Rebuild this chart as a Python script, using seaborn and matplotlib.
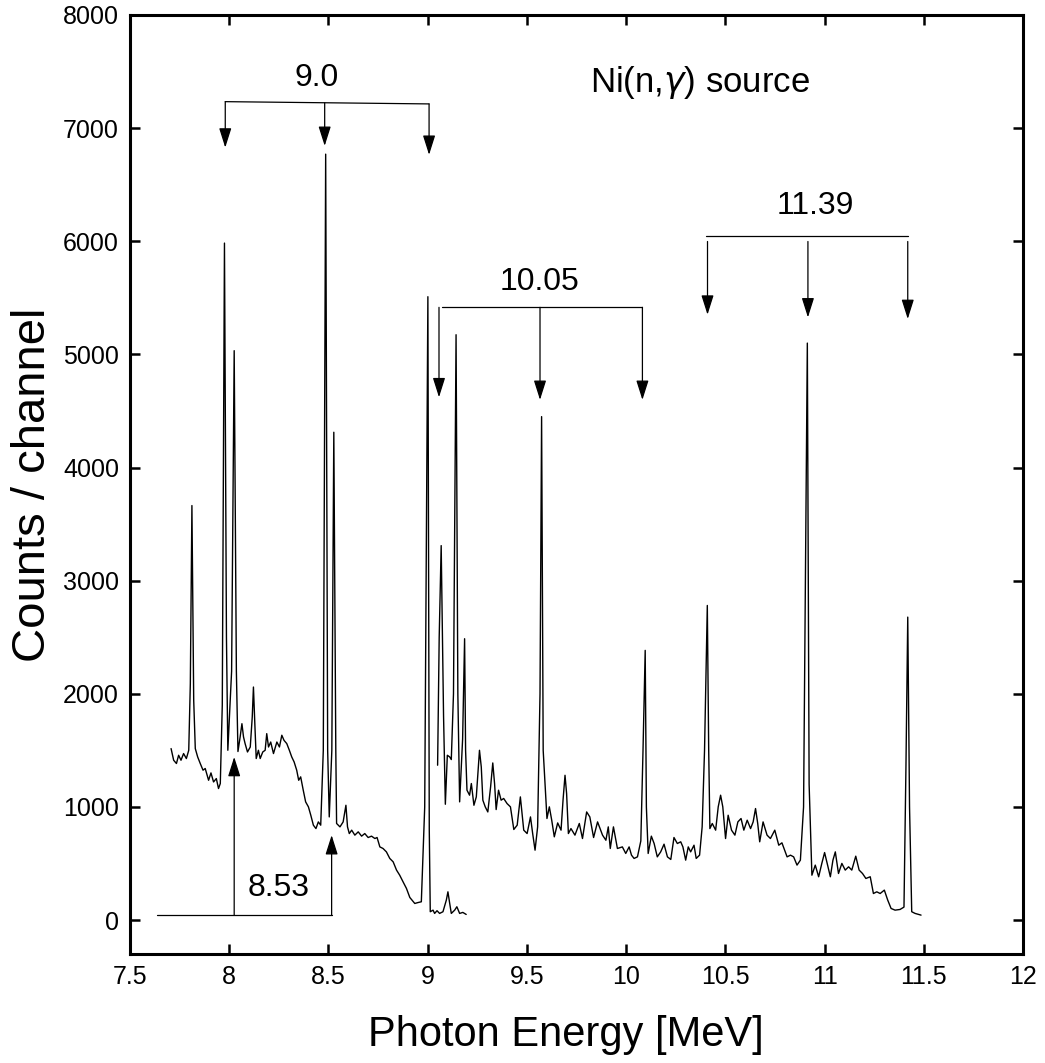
import numpy as np
import pandas as pd
import matplotlib
matplotlib.use("Agg")
import matplotlib.pyplot as plt
import seaborn as sns

# spectrum, part 1 (7.7 - 9.2 MeV)
energy_a = [7.707, 7.720, 7.734, 7.745, 7.757, 7.770, 7.784, 7.796, 7.804, 7.812,
            7.821, 7.829, 7.841, 7.854, 7.868, 7.879, 7.896, 7.908, 7.921, 7.935,
            7.946, 7.955, 7.965, 7.976, 7.986, 7.993, 8.012, 8.025, 8.036, 8.044,
            8.055, 8.064, 8.072, 8.080, 8.092, 8.106, 8.116, 8.122, 8.129, 8.136,
            8.147, 8.156, 8.169, 8.181, 8.189, 8.198, 8.209, 8.223, 8.240, 8.253,
            8.265, 8.276, 8.290, 8.303, 8.315, 8.327, 8.340, 8.350, 8.360, 8.373,
            8.385, 8.399, 8.411, 8.424, 8.437, 8.449, 8.461, 8.474, 8.486, 8.496,
            8.504, 8.517, 8.527, 8.537, 8.541, 8.558, 8.574, 8.588, 8.596, 8.605,
            8.617, 8.633, 8.650, 8.667, 8.683, 8.700, 8.717, 8.734, 8.745, 8.759,
            8.775, 8.792, 8.809, 8.826, 8.843, 8.859, 8.876, 8.893, 8.910, 8.935,
            8.951, 8.968, 8.985, 9.001, 9.008, 9.013, 9.027, 9.035, 9.047, 9.060,
            9.077, 9.094, 9.102, 9.111, 9.119, 9.136, 9.147, 9.161, 9.177, 9.194]
counts_a = [1516, 1413, 1384, 1457, 1413, 1472, 1428, 1501, 2090, 3664,
            1943, 1516, 1442, 1384, 1325, 1340, 1236, 1301, 1221, 1251,
            1163, 1207, 1900, 5984, 2500, 1501, 2200, 5033, 2200, 1490,
            1619, 1736, 1619, 1560, 1486, 1530, 1795, 2060, 1736, 1428,
            1501, 1428, 1486, 1501, 1648, 1530, 1574, 1472, 1574, 1530,
            1634, 1589, 1560, 1501, 1442, 1398, 1325, 1236, 1266, 1148,
            1045, 1001, 927, 839, 809, 868, 839, 1500, 6770, 1500,
            912, 1500, 4312, 1500, 854, 824, 868, 1015, 824, 765,
            795, 751, 780, 742, 765, 730, 742, 721, 730, 647,
            633, 603, 545, 515, 442, 397, 338, 280, 200, 147,
            155, 162, 1000, 5510, 800, 74, 88, 59, 83, 59,
            74, 177, 250, 147, 59, 88, 118, 59, 68, 50]

# spectrum, part 2 (9.05 - 11.5 MeV)
energy_b = [9.050, 9.058, 9.068, 9.080, 9.089, 9.099, 9.111, 9.119, 9.130, 9.143,
            9.152, 9.161, 9.176, 9.186, 9.191, 9.198, 9.211, 9.220, 9.233, 9.245,
            9.253, 9.261, 9.270, 9.278, 9.290, 9.303, 9.317, 9.328, 9.337, 9.345,
            9.357, 9.370, 9.383, 9.400, 9.417, 9.434, 9.451, 9.467, 9.484, 9.501,
            9.518, 9.529, 9.541, 9.554, 9.566, 9.574, 9.582, 9.601, 9.613, 9.625,
            9.638, 9.655, 9.672, 9.682, 9.692, 9.700, 9.709, 9.722, 9.742, 9.764,
            9.780, 9.801, 9.817, 9.836, 9.856, 9.881, 9.898, 9.910, 9.920, 9.936,
            9.956, 9.981, 9.998, 10.015, 10.027, 10.040, 10.057, 10.074, 10.085, 10.096,
            10.102, 10.111, 10.127, 10.141, 10.157, 10.174, 10.191, 10.208, 10.225, 10.241,
            10.258, 10.275, 10.286, 10.300, 10.313, 10.325, 10.342, 10.353, 10.370, 10.383,
            10.395, 10.409, 10.416, 10.422, 10.434, 10.451, 10.464, 10.476, 10.487, 10.501,
            10.514, 10.531, 10.548, 10.563, 10.579, 10.593, 10.610, 10.627, 10.640, 10.652,
            10.663, 10.673, 10.690, 10.710, 10.727, 10.749, 10.769, 10.785, 10.811, 10.828,
            10.844, 10.861, 10.878, 10.894, 10.913, 10.922, 10.936, 10.953, 10.970, 10.986,
            11.000, 11.017, 11.029, 11.042, 11.054, 11.070, 11.087, 11.104, 11.121, 11.137,
            11.157, 11.174, 11.191, 11.208, 11.230, 11.246, 11.263, 11.280, 11.301, 11.318,
            11.335, 11.355, 11.380, 11.400, 11.405, 11.410, 11.419, 11.428, 11.439, 11.456,
            11.486]
counts_b = [1369, 2500, 3310, 1800, 1024, 1457, 1442, 1419, 2000, 5174,
            2000, 1045, 1600, 2487, 1500, 1148, 1104, 1207, 1015, 1089,
            1295, 1501, 1354, 1060, 1001, 956, 1177, 1389, 1207, 977,
            1148, 1060, 1075, 1030, 1001, 801, 839, 1089, 795, 765,
            912, 765, 618, 824, 2000, 4450, 1500, 898, 1001, 883,
            736, 859, 795, 1060, 1280, 1119, 765, 809, 751, 854,
            721, 956, 912, 730, 868, 751, 706, 824, 633, 824,
            633, 647, 589, 647, 574, 545, 559, 700, 1500, 2384,
            1000, 589, 742, 677, 559, 603, 671, 559, 536, 730,
            677, 692, 647, 530, 647, 603, 662, 545, 574, 824,
            1500, 2781, 1500, 809, 854, 795, 1001, 1104, 1001, 721,
            927, 795, 751, 868, 898, 795, 883, 809, 868, 986,
            854, 692, 868, 751, 721, 795, 662, 683, 559, 574,
            559, 486, 530, 1000, 5100, 1200, 397, 486, 383, 501,
            597, 471, 383, 530, 603, 412, 501, 442, 471, 442,
            565, 442, 412, 368, 383, 235, 250, 235, 265, 177,
            103, 88, 94, 115, 768, 1366, 2678, 1000, 74, 59,
            44]

# decay-line markers: group label, label position, arrow x, line y, arrow tips
group_labels = ["9.0", "10.05", "11.39"]
group_label_pos = [(8.441, 7447), (9.565, 5636), (10.955, 6314)]
group_arrow_x = [[7.980, 8.481, 9.007], [9.057, 9.566, 10.082], [10.410, 10.916, 11.419]]
group_line = [(7.980, 9.007, 7234, 7214), (9.074, 10.082, 5416, 5416), (10.404, 11.419, 6043, 6043)]
group_arrow_top = [[7234, 7223, 7214], [5416, 5416, 5416], [5998, 5998, 5998]]
group_arrow_tip = [[6828, 6843, 6764], [4621, 4598, 4598], [5351, 5327, 5313]]

# 8.53 group (arrows pointing up)
low_label = "8.53"
low_label_pos = (8.248, 280)
low_line = (7.637, 8.516, 44)
low_arrow_x = [8.025, 8.516]
low_arrow_tip = [1442, 751]

x_ticks = [7.5, 8, 8.5, 9, 9.5, 10, 10.5, 11, 11.5, 12]
x_tick_labels = ["7.5", "8", "8.5", "9", "9.5", "10", "10.5", "11", "11.5", "12"]
y_ticks = [0, 1000, 2000, 3000, 4000, 5000, 6000, 7000, 8000]

sns.set_theme(style="white")
plt.rcParams['font.family'] = ['Liberation Sans', 'DejaVu Sans']
plt.rcParams['mathtext.fontset'] = 'dejavusans'
plt.rcParams['text.color'] = 'black'
plt.rcParams['axes.labelcolor'] = 'black'

fig = plt.figure(figsize=(10.45, 10.63), dpi=100)
ax = fig.add_axes([0.1244, 0.1025, 0.9790 - 0.1244, 0.9859 - 0.1025])

df_a = pd.DataFrame({"E": energy_a, "C": counts_a})
df_b = pd.DataFrame({"E": energy_b, "C": counts_b})
sns.lineplot(data=df_a, x="E", y="C", ax=ax, color="black", lw=1.0,
             estimator=None, sort=False)
sns.lineplot(data=df_b, x="E", y="C", ax=ax, color="black", lw=1.0,
             estimator=None, sort=False)

arrow_kw = dict(arrowstyle="-|>,head_length=1.2,head_width=0.38", color="black",
                lw=0.9, shrinkA=0, shrinkB=0, mutation_scale=10)

for lab, pos, xs, line, tops, tips in zip(group_labels, group_label_pos, group_arrow_x,
                                          group_line, group_arrow_top, group_arrow_tip):
    ax.plot([line[0], line[1]], [line[2], line[3]], color="black", lw=0.9)
    for x, t0, t1 in zip(xs, tops, tips):
        ax.annotate("", xy=(x, t1), xytext=(x, t0), arrowprops=arrow_kw)
    ax.text(pos[0], pos[1], lab, fontsize=23, ha="center", va="center")

ax.plot([low_line[0], low_line[1]], [low_line[2], low_line[2]], color="black", lw=0.9)
for x, t1 in zip(low_arrow_x, low_arrow_tip):
    ax.annotate("", xy=(x, t1), xytext=(x, low_line[2]), arrowprops=arrow_kw)
ax.text(low_label_pos[0], low_label_pos[1], low_label, fontsize=23, ha="center", va="center")

ax.text(10.371, 7402, r"Ni(n,$\gamma$) source", fontsize=25, ha="center", va="center")

ax.set_xlim(7.5, 12)
ax.set_ylim(-300, 8000)
ax.set_xticks(x_ticks)
ax.set_xticklabels(x_tick_labels)
ax.set_yticks(y_ticks)

for s in ax.spines.values():
    s.set_visible(True)
    s.set_color("black")
    s.set_linewidth(2.2)
ax.tick_params(direction="in", length=7, width=1.8, labelsize=18, colors="black",
               top=True, right=True, bottom=True, left=True, pad=8)

ax.set_xlabel("Photon Energy [MeV]", fontsize=30, labelpad=18.5)
ax.xaxis.label.set_x(0.488)
ax.set_ylabel("Counts / channel", fontsize=34, labelpad=5.5)

fig.savefig("out.png", dpi=100)
